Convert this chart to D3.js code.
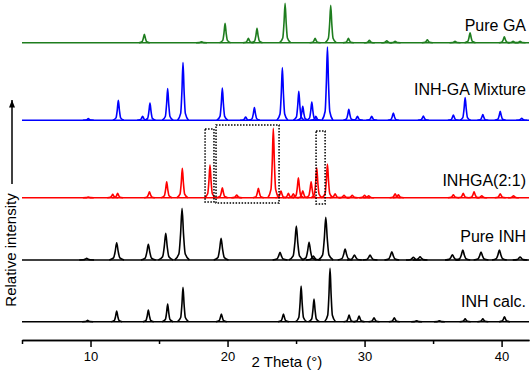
<!DOCTYPE html>
<html>
<head>
<meta charset="utf-8">
<script src="https://cdn.jsdelivr.net/npm/d3@7"></script>
<style>
  body { margin: 0; background: #fff; }
  svg { font-family: "Liberation Sans", Arial, sans-serif; }
  .axis path, .axis line { stroke: #000; stroke-width: 1.5; }
  .axis text { font-size: 13px; fill: #000; }
</style>
</head>
<body>
<div id="chart"></div>
<script>
// peak lists [2theta, intensity (a.u.)]
const pureGA = [[13.93, 8.3], [18.1, 1], [19.82, 19.3], [21.52, 4.3], [22.15, 14.3], [24.2, 39.3],
  [26.39, 4.3], [27.53, 37.3], [28.82, 4.3], [30.35, 2.3], [31.62, 2], [32.23, 1.5], [34.58, 3],
  [36.6, 1.5], [37.7, 10], [40.2, 6], [40.84, 1.5], [41.35, 1.5]];
const mixture = [[9.84, 1.7], [12.03, 20], [13.8, 4], [14.34, 17.3], [15.63, 31.7], [16.75, 57.7],
  [19.62, 32.3], [21.32, 3.3], [21.96, 12.7], [24.0, 52.7], [25.2, 29], [25.49, 14], [26.15, 18.3],
  [26.44, 4], [27.29, 73.3], [28.85, 11], [29.48, 4], [30.52, 4], [32.1, 7.3], [34.29, 4.3],
  [36.48, 5.3], [37.34, 22.7], [38.63, 5.7], [39.9, 9], [41.47, 2]];
const inhga = [[9.84, 0.7], [11.62, 3.3], [11.98, 4.3], [14.3, 6], [15.56, 16], [16.7, 29.3],
  [18.72, 32.7], [19.62, 10], [20.67, 2.7], [22.25, 9.3], [23.34, 69.3], [23.9, 6.7], [24.44, 4.3],
  [24.8, 4], [25.17, 20], [25.49, 7], [26.1, 16], [26.51, 30], [27.29, 33.7], [27.85, 4],
  [28.5, 2.5], [29.1, 2.5], [30.0, 2.5], [30.3, 2], [32.23, 4], [32.47, 3], [36.48, 3], [37.2, 4.3],
  [37.99, 6], [38.55, 2], [39.9, 4], [40.87, 2]];
const pureINH = [[9.72, 1.7], [11.91, 17.3], [14.22, 15.7], [15.49, 26.7], [16.68, 51.7], [19.53, 21.7],
  [23.83, 7.7], [25.02, 34], [25.95, 17.7], [26.26, 4], [27.17, 42.7], [28.58, 11], [29.26, 5],
  [30.4, 5], [31.99, 8.3], [33.56, 2.7], [34.05, 3.3], [36.41, 5.3], [37.17, 10], [38.5, 8],
  [39.84, 10], [41.35, 3]];
const inhCalc = [[9.79, 1.3], [11.91, 10.7], [14.22, 11.7], [15.63, 17.7], [16.75, 34.3], [19.55, 7.7],
  [24.08, 7.7], [25.37, 35.7], [26.31, 22.7], [27.48, 53.3], [28.87, 6.7], [29.6, 5.7], [30.69, 4],
  [32.17, 4], [33.8, 1], [35.46, 1], [37.34, 3], [38.63, 3], [40.21, 5]];

const seriesNames = ["Pure GA", "INH-GA Mixture", "INHGA(2:1)", "Pure INH", "INH calc."];
const seriesPeaks = [pureGA, mixture, inhga, pureINH, inhCalc];
const seriesOffsets = [297.3, 219.7, 142.3, 80, 18.3];
const seriesColors = ["#1e7d1e", "#0000ff", "#ff0000", "#000000", "#000000"];
const seriesWidths = [1, 1, 1, 1.35, 1];

// dotted boxes on INHGA(2:1): [x0, x1, yBottom, yTop]
const boxes = [[18.36, 19.01, 138, 211], [19.16, 23.76, 137, 215], [26.46, 27.12, 136, 209]];

const xMajor = [10, 20, 30, 40];
const xMinor = [5, 15, 25, 35];

const WIDTH = 532, HEIGHT = 375;
const svg = d3.select("#chart").append("svg").attr("width", WIDTH).attr("height", HEIGHT);

const x = d3.scaleLinear().domain([5, 42]).range([22, 529]);
const y = d3.scaleLinear().domain([0, 340]).range([340, 0]);

// peak profile: fractions of the peak height at offsets in degrees
const shape = [[-0.4, 0], [-0.17, 0.12], [-0.08, 0.5], [0, 1], [0.08, 0.5], [0.17, 0.12], [0.4, 0]];
const line = d3.line().x(d => x(d[0])).y(d => y(d[1])).curve(d3.curveMonotoneX);

seriesPeaks.forEach((peaks, i) => {
  const g = svg.append("g")
    .attr("fill", "none")
    .attr("stroke", seriesColors[i])
    .attr("stroke-width", 1.6)
    .attr("stroke-linejoin", "round");
  const off = seriesOffsets[i];
  g.append("path").attr("d", line([[5, off], [42, off]]));
  g.selectAll(".peak").data(peaks).join("path")
    .attr("class", "peak")
    .attr("d", p => line(shape.map(s => [p[0] + s[0] * seriesWidths[i], off + s[1] * p[1]])));

  svg.append("text")
    .attr("x", 526)
    .attr("y", [30.5, 95, 186, 242, 306.5][i])
    .attr("text-anchor", "end")
    .attr("font-size", 16)
    .text(seriesNames[i]);
});

svg.append("g").selectAll("rect").data(boxes).join("rect")
  .attr("x", d => x(d[0]))
  .attr("y", d => y(d[3]))
  .attr("width", d => x(d[1]) - x(d[0]))
  .attr("height", d => y(d[2]) - y(d[3]))
  .attr("fill", "none")
  .attr("stroke", "#000")
  .attr("stroke-width", 1.5)
  .attr("stroke-dasharray", "1.5,1.5");

// x axis
svg.append("g")
  .attr("class", "axis")
  .attr("transform", "translate(0,340)")
  .call(d3.axisBottom(x).tickValues(xMinor).tickSize(4).tickSizeOuter(0).tickFormat(""));
svg.append("g")
  .attr("class", "axis")
  .attr("transform", "translate(0,340)")
  .call(d3.axisBottom(x).tickValues(xMajor).tickSize(7).tickSizeOuter(0).tickPadding(5));

svg.append("text")
  .attr("x", 287)
  .attr("y", 367)
  .attr("text-anchor", "middle")
  .attr("font-size", 15)
  .text("2 Theta (°)");

// y axis arrow + label
svg.append("defs").append("marker")
  .attr("id", "arrow")
  .attr("viewBox", "0 0 10 10")
  .attr("refX", 10).attr("refY", 5)
  .attr("markerWidth", 5).attr("markerHeight", 6)
  .attr("orient", "auto")
  .append("path").attr("d", "M0,1L10,5L0,9z").attr("fill", "#000");

svg.append("line")
  .attr("x1", 12).attr("x2", 12)
  .attr("y1", 184).attr("y2", 100)
  .attr("stroke", "#000")
  .attr("stroke-width", 1.5)
  .attr("marker-end", "url(#arrow)");

svg.append("text")
  .attr("transform", "translate(16,250) rotate(-90)")
  .attr("text-anchor", "middle")
  .attr("font-size", 15)
  .text("Relative intensity");
</script>
</body>
</html>
